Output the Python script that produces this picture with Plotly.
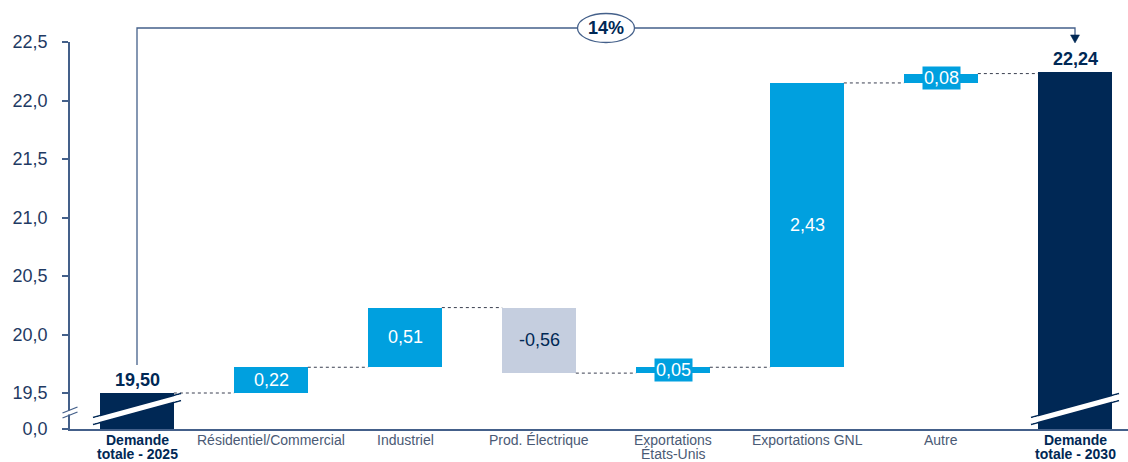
import plotly.graph_objects as go

# ---- data -------------------------------------------------------------
categories = [
    "Demande<br>totale - 2025",
    "Résidentiel/Commercial",
    "Industriel",
    "Prod. Électrique",
    "Exportations<br>États-Unis",
    "Exportations GNL",
    "Autre",
    "Demande<br>totale - 2030",
]
start_total = 19.50
changes = [0.22, 0.51, -0.56, 0.05, 2.43, 0.08]
end_total = 22.24
growth_label = "14%"
y_tick_values = [19.5, 20.0, 20.5, 21.0, 21.5, 22.0, 22.5]

# ---- styling ----------------------------------------------------------
NAVY = "#002855"
BLUE = "#00A0DF"
GREY = "#C5CEDF"
AXIS = "#44608A"
TICK_TXT = "#1F3A63"
CAT_TXT = "#4A5A75"
CONNECTOR = "#3A3F50"
FONT = "Arial, Liberation Sans, sans-serif"

W, H = 1128, 462
M_L, M_R, M_T, M_B = 70, 0, 42, 33
PW, PH = W - M_L - M_R, H - M_T - M_B

# broken axis: the "0,0" baseline sits just below 19,5
Y_TOP = 22.5
AXIS_ZERO = 19.5 - 36 / 117  # display position of the 0,0 baseline
X0 = -0.5
X1 = X0 + PW / 134
BAR_W = 0.55

dx = 1 / PW
dy = 1 / PH


def xp(i):
    return (i - X0) / (X1 - X0)


def yp(v):
    return (v - AXIS_ZERO) / (Y_TOP - AXIS_ZERO)


def fmt(v):
    return f"{v:.2f}".replace(".", ",")


n = len(categories)
xs = list(range(n))

# ---- bar geometry from the data ---------------------------------------
bases, heights, colors = [], [], []
levels = []  # running level after each bar
bases.append(AXIS_ZERO)
heights.append(start_total - AXIS_ZERO)
colors.append(NAVY)
level = start_total
levels.append(level)
for c in changes:
    lo = min(level, level + c)
    bases.append(lo)
    heights.append(abs(c))
    colors.append(BLUE if c >= 0 else GREY)
    level += c
    levels.append(level)
bases.append(AXIS_ZERO)
heights.append(end_total - AXIS_ZERO)
colors.append(NAVY)

fig = go.Figure()
fig.add_trace(go.Bar(
    x=xs, y=heights, base=bases, width=BAR_W,
    marker=dict(color=colors, line=dict(width=0)),
    hoverinfo="skip", showlegend=False,
))

# dotted connectors between consecutive bars
for i in range(n - 1):
    fig.add_trace(go.Scatter(
        x=[i + BAR_W / 2, i + 1 - BAR_W / 2], y=[levels[i], levels[i]],
        mode="lines", line=dict(color=CONNECTOR, width=1, dash="dot"),
        hoverinfo="skip", showlegend=False,
    ))

annotations = []
shapes = []

# value labels
for k, c in enumerate(changes):
    i = k + 1
    mid = bases[i] + heights[i] / 2
    small = abs(c) < 0.1
    annotations.append(dict(
        x=i, y=mid, xref="x", yref="y", text=fmt(c), showarrow=False,
        xanchor="center", yanchor="middle",
        font=dict(family=FONT, size=18, color=NAVY if c < 0 else "white"),
        bgcolor=BLUE if small else None, borderpad=1,
    ))
for i, v in ((0, start_total), (n - 1, end_total)):
    annotations.append(dict(
        x=i, y=v, xref="x", yref="y", text=f"<b>{fmt(v)}</b>", showarrow=False,
        xanchor="center", yanchor="bottom", yshift=1,
        font=dict(family=FONT, size=18, color=NAVY),
    ))

# category labels under the axis, tight two-line spacing
for i, c in enumerate(categories):
    total = i in (0, n - 1)
    for j, line in enumerate(c.split("<br>")):
        annotations.append(dict(
            x=i, y=0, xref="x", yref="paper",
            text=f"<b>{line}</b>" if total else line, showarrow=False,
            xanchor="center", yanchor="middle", yshift=-10.5 - 14 * j,
            font=dict(family=FONT, size=14, color=NAVY if total else CAT_TXT),
        ))

# break marks across the two total bars
for i in (0, n - 1):
    cx = xp(i)
    cy = 20 * dy
    for off, col, wdt in ((-3.5, NAVY, 1.3), (3.5, NAVY, 1.3), (0, "white", 5)):
        shapes.append(dict(
            type="line", xref="paper", yref="paper",
            x0=cx - 44 * dx, y0=cy - 12 * dy + off * dy,
            x1=cx + 44 * dx, y1=cy + 12 * dy + off * dy,
            line=dict(color=col, width=wdt), layer="above",
        ))

# break mark on the value axis
shapes.append(dict(type="line", xref="paper", yref="paper",
                   x0=0, x1=0, y0=14.5 * dy, y1=18.5 * dy,
                   line=dict(color="white", width=4), layer="above"))
for yc in (16.5 + 2.5, 16.5 - 2.5):
    shapes.append(dict(type="line", xref="paper", yref="paper",
                       x0=-7.5 * dx, y0=(yc - 3) * dy, x1=7.5 * dx, y1=(yc + 3) * dy,
                       line=dict(color=AXIS, width=1.3), layer="above"))

# growth bracket from the first to the last total
top = 1 + 14 * dy
xl, xr = xp(0), xp(n - 1)
y_left = yp(start_total) + 28 * dy
tip = yp(end_total) + 29.5 * dy
shapes.append(dict(type="path", xref="paper", yref="paper",
                   path=f"M {xl} {y_left} L {xl} {top} L {xr} {top} L {xr} {tip + 7 * dy}",
                   line=dict(color=AXIS, width=1.3)))
shapes.append(dict(type="path", xref="paper", yref="paper",
                   path=f"M {xr - 4.5 * dx} {tip + 8 * dy} L {xr + 4.5 * dx} {tip + 8 * dy} L {xr} {tip} Z",
                   fillcolor=NAVY, line=dict(color=NAVY, width=0.5)))
xm = (xl + xr) / 2
shapes.append(dict(type="circle", xref="paper", yref="paper",
                   x0=xm - 28.5 * dx, x1=xm + 28.5 * dx,
                   y0=top - 14.5 * dy, y1=top + 14.5 * dy,
                   fillcolor="white", line=dict(color=AXIS, width=1.3)))
annotations.append(dict(x=xm, y=top, xref="paper", yref="paper",
                        text=f"<b>{growth_label}</b>", showarrow=False,
                        xanchor="center", yanchor="middle",
                        font=dict(family=FONT, size=18, color=NAVY)))

fig.update_layout(
    width=W, height=H,
    margin=dict(l=M_L, r=M_R, t=M_T, b=M_B, pad=0),
    paper_bgcolor="white", plot_bgcolor="white",
    bargap=0, showlegend=False,
    annotations=annotations, shapes=shapes,
    font=dict(family=FONT),
    xaxis=dict(
        range=[X0, X1], tickmode="array", tickvals=xs,
        showticklabels=False,
        showline=True, linecolor=AXIS, linewidth=1.5, ticks="",
        showgrid=False, zeroline=False, automargin=False,
        fixedrange=True,
    ),
    yaxis=dict(
        range=[AXIS_ZERO, Y_TOP], tickmode="array",
        tickvals=[AXIS_ZERO] + y_tick_values,
        ticktext=["0,0"] + [f"{v:.1f}".replace(".", ",") for v in y_tick_values],
        showline=True, linecolor=AXIS, linewidth=1.5,
        ticks="outside", ticklen=6, tickwidth=1.5, tickcolor=AXIS,
        ticklabelstandoff=11,
        showgrid=False, zeroline=False, automargin=False,
        tickfont=dict(family=FONT, size=18, color=TICK_TXT),
        fixedrange=True,
    ),
)

fig.write_html("out.html", config={"displayModeBar": False})
